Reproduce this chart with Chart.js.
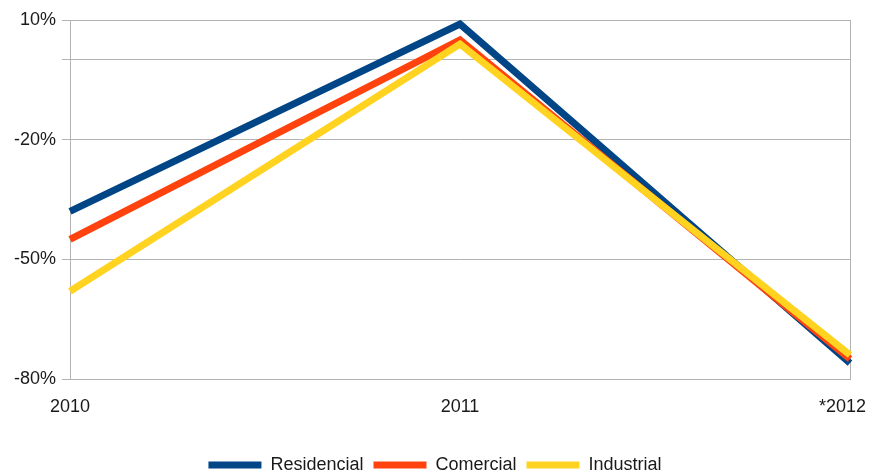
<!DOCTYPE html>
<html lang="es">
<head>
  <meta charset="UTF-8">
  <title>Variación por sector</title>
  <script src="https://cdn.jsdelivr.net/npm/chart.js"></script>
  <style>
    html, body { margin: 0; padding: 0; background: #fff; }
    #wrap { width: 870px; height: 475px; }
  </style>
</head>
<body>
  <div id="wrap"><canvas id="chart"></canvas></div>
  <script>
    const years = ['2010', '2011', '*2012'];
    const residencial = [-38, 9, -76];
    const comercial = [-45, 5, -75];
    const industrial = [-58, 4, -74];
    const shownTicks = [10, -20, -50, -80];

    const gray = '#b3b3b3';

    function line(label, data, color, order) {
      return {
        label, data, order,
        borderColor: color,
        backgroundColor: color,
        borderWidth: 7,
        pointRadius: 0,
        tension: 0,
        borderJoinStyle: 'miter',
        borderCapStyle: 'butt'
      };
    }

    Chart.defaults.font.family = "'Liberation Sans', Arial, sans-serif";
    Chart.defaults.font.size = 18;
    Chart.defaults.color = '#1a1a1a';

    new Chart(document.getElementById('chart'), {
      type: 'line',
      data: {
        labels: years,
        datasets: [
          line('Residencial', residencial, '#004586', 2),
          line('Comercial', comercial, '#ff420e', 1),
          line('Industrial', industrial, '#ffd320', 0)
        ]
      },
      options: {
        responsive: true,
        maintainAspectRatio: false,
        animation: false,
        layout: { padding: { top: 20, right: 0, left: 0, bottom: -9 } },
        plugins: {
          tooltip: { enabled: false },
          legend: {
            position: 'bottom',
            labels: {
              boxWidth: 53,
              boxHeight: 7,
              padding: 10,
              sort: (a, b) => a.datasetIndex - b.datasetIndex,
              generateLabels: chart => Chart.defaults.plugins.legend.labels.generateLabels(chart)
                .map(item => Object.assign(item, { lineWidth: 0 }))
            }
          }
        },
        scales: {
          x: {
            offset: false,
            afterFit: s => { s.height = 67; s.paddingLeft = 0; s.paddingRight = 20; },
            grid: {
              drawTicks: false,
              color: ctx => (ctx.index === 1 ? 'rgba(0,0,0,0)' : gray)
            },
            border: { color: gray },
            ticks: {
              padding: 17,
              maxRotation: 0,
              // keep the last label inside the canvas, as in the original
              callback: (v, i) => (i === years.length - 1 ? years[i] + '   ' : years[i])
            }
          },
          y: {
            min: -80,
            max: 10,
            afterFit: s => { s.width = 70; s.paddingTop = 0; s.paddingBottom = 0; },
            ticks: {
              stepSize: 10,
              padding: 6,
              callback: v => (shownTicks.includes(v) ? v + '%' : '')
            },
            grid: {
              tickLength: 8,
              color: ctx => (shownTicks.includes(ctx.tick.value) || ctx.tick.value === 0 ? gray : 'rgba(0,0,0,0)')
            },
            border: { color: gray }
          }
        }
      }
    });
  </script>
</body>
</html>
